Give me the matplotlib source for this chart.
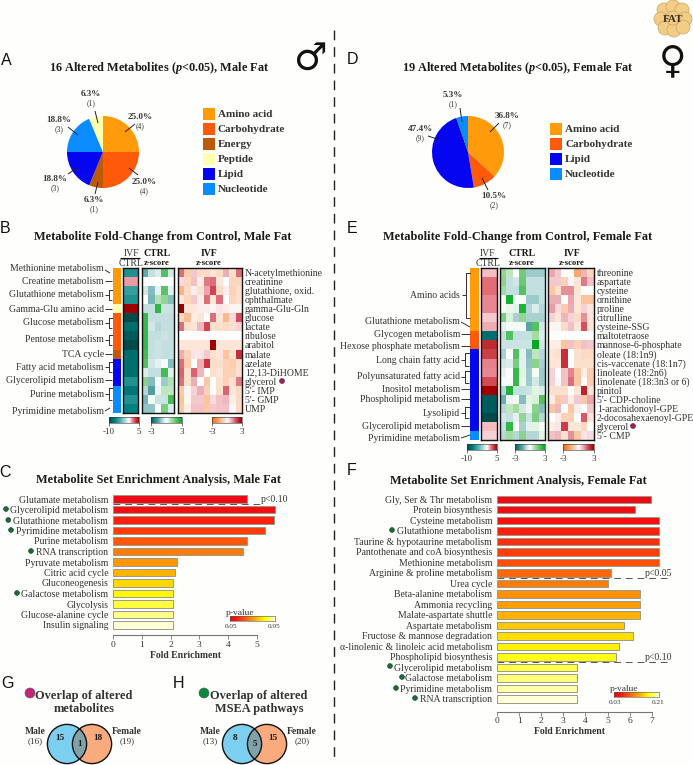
import matplotlib
matplotlib.use("Agg")
import matplotlib.pyplot as plt
import numpy as np
from matplotlib.colors import LinearSegmentedColormap, ListedColormap, Normalize
from matplotlib.patches import Circle, Rectangle

W, H = 693, 765

plt.rcParams['font.family'] = ['Liberation Serif', 'DejaVu Serif']
plt.rcParams['mathtext.fontset'] = 'custom'
plt.rcParams['mathtext.it'] = 'Liberation Serif:italic:bold'
plt.rcParams['mathtext.rm'] = 'Liberation Serif:bold'

# pies
cat_colors = {'Amino acid': '#ff9a0a', 'Carbohydrate': '#ff5a0a', 'Energy': '#bd5a0a',
              'Peptide': '#ffffb0', 'Lipid': '#0505f0', 'Nucleotide': '#0a8cff'}
male_cats = ['Amino acid', 'Carbohydrate', 'Energy', 'Lipid', 'Nucleotide', 'Peptide']
male_counts = [4, 4, 1, 3, 3, 1]
female_cats = ['Amino acid', 'Carbohydrate', 'Lipid', 'Nucleotide']
female_counts = [7, 2, 9, 1]
male_legend = ['Amino acid', 'Carbohydrate', 'Energy', 'Peptide', 'Lipid', 'Nucleotide']

# heatmaps, male
male_rows = ['N-acetylmethionine', 'creatinine', 'glutathione, oxid.', 'ophthalmate', 'gamma-Glu-Gln',
             'glucose', 'lactate', 'ribulose', 'arabitol', 'malate', 'azelate', '12,13-DiHOME',
             'glycerol', "5'- IMP", "5'- GMP", 'UMP']
male_groups = ['Amino acid'] * 4 + ['Peptide'] + ['Carbohydrate'] * 4 + ['Energy'] + ['Lipid'] * 3 + ['Nucleotide'] * 3
male_fc = [-6, 1.5, -5.2, -6, 5, -10, -8, -9, -10, -8, -8, -8, -6, -7.5, -6, -7]
male_ctrl = [[-1.5, -0.7, -0.4, 2, -0.5],
             [0, 0, 0, 0, 0],
             [-0.5, -1.2, -0.3, 1.9, -0.3],
             [0, -1.3, 0.8, 1.2, -1.2],
             [-0.7, -0.7, 2.4, -0.6, -0.6],
             [2.3, -0.7, -0.7, -0.7, -0.7],
             [2.3, -0.5, -0.8, -0.7, -0.7],
             [2.3, -0.7, -0.7, -0.6, -0.7],
             [2.3, -0.7, -0.6, -0.7, -0.7],
             [2.2, -0.7, -0.6, -0.7, -0.7],
             [2, -0.5, -0.3, 0.1, -1.2],
             [-0.4, -0.7, -0.7, 2.2, -0.3],
             [1.3, -1.2, -0.1, -1, 0.8],
             [-0.8, -1.7, -0.2, 0.7, 0.7],
             [-1.3, 0.1, -0.6, -0.6, 2.2],
             [-1.1, -1.1, 0, 1.5, -0.4]]
male_ivf = [[1.5, -0.8, 0.6, -0.5, -0.5, -0.3, -0.5, 0.9, -0.4, 1.5],
            [0.4, -0.6, 0.7, -0.2, 1.4, 1.5, -0.3, 0.0, -0.6, -0.6],
            [-1.3, -0.5, 0.2, -0.4, 1.0, 1.9, -0.5, 0.2, -0.7, -0.4],
            [-0.3, -0.6, 0.6, 0.2, 1.5, -0.3, 1.5, 0, -0.6, -0.4],
            [3, -0.3, -0.3, 0.2, 0.2, -0.1, 0.3, -0.2, 0.1, 0.1],
            [-0.6, -1.1, -0.2, -0.3, 0, 1.5, -0.3, -1.2, 0.4, 1.8],
            [1.5, -0.4, -0.3, 0.8, 1.9, -0.4, -0.4, -0.5, -0.4, 0.5],
            [0, 0, 0, 0, 0, 0, 0, 0, 0, 0],
            [-0.3, -0.3, -0.3, -0.3, -0.3, 3, -0.3, -0.3, -0.3, -0.3],
            [0.9, -0.7, 0.3, 0.3, 0.6, -0.4, -0.3, -1, -0.4, 2.2],
            [1.5, -0.8, 0, 0.9, 2.1, -0.4, -0.4, -0.7, -0.8, -0.4],
            [1.6, -0.4, 1.6, 0.8, 0, -0.4, -0.3, -0.7, -0.7, -0.4],
            [1.5, -0.4, 0.9, 0, -0.9, 0, -0.4, -0.7, -0.4, 1.4],
            [-0.9, 0.1, 0.5, 0.9, -0.7, 0, -0.4, 1.6, -0.3, -0.5],
            [-1, -0.1, 0.6, 0.6, -1, 0.4, 0.7, 0.8, -0.2, -0.5],
            [-0.9, -0.2, 0.7, 0.7, -0.9, 0.6, 0.7, 0.7, 0.1, -0.5]]

# heatmaps, female
female_rows = ['threonine', 'aspartate', 'cysteine', 'ornithine', 'proline', 'citrulline', 'cysteine-SSG',
               'maltotetraose', 'mannose-6-phosphate', 'oleate (18:1n9)', 'cis-vaccenate (18:1n7)',
               'linoleate (18:2n6)', 'linolenate (18:3n3 or 6)', 'pinitol', "5'- CDP-choline",
               '1-arachidonoyl-GPE', '2-docosahexaenoyl-GPE', 'glycerol', "5'- CMP"]
female_groups = ['Amino acid'] * 7 + ['Carbohydrate'] * 2 + ['Lipid'] * 9 + ['Nucleotide']
female_fc = [1, 2.2, 2.2, 1.8, 1.8, 0.8, 1.3, -8, 3.8, 3.3, 1.9, 1.8, 3, 5, -9, -9, -10, 1, 0.7]
female_ctrl = [[1.2, 0.7, 0, 1.6, -1, -1, -1],
               [1.3, -0.7, -0.5, 1.7, -0.7, -0.7, -0.7],
               [1, -0.7, -0.7, 2, -0.7, -0.7, -0.7],
               [0.1, 2.7, 0.1, 0.1, -1, -1, -0.7],
               [0.1, 0.2, -0.3, 2.6, -0.8, -0.4, -0.8],
               [1.5, 0.4, -0.9, 1.2, -0.9, -0.9, -0.9],
               [-0.3, 0.1, 0.1, 0.1, -1.6, 2, -0.5],
               [-0.7, 2, -0.7, -0.7, -0.7, 1, -0.4],
               [-0.6, -0.6, -0.6, -0.6, -0.6, 3, -0.5],
               [-0.9, 0, 2, -0.3, -1.2, 0.7, -0.8],
               [-0.5, -0.4, 1.5, -0.3, -1.1, 1.3, -0.9],
               [-0.3, 0, 2.3, 0.3, -1, 0.1, -1],
               [-0.1, 0.1, 2.3, 0.2, -1, -0.5, -1],
               [-0.8, 2.6, -0.7, -0.7, -0.6, 0.3, -0.4],
               [-1.4, -0.2, -0.1, -1.2, 0.3, 0.4, 2],
               [-0.8, 0.7, 1, -0.5, -0.2, 1.3, -1.2],
               [-0.5, -0.7, -0.3, 1.2, -0.6, 1.5, -0.8],
               [-0.7, 2.4, 0, -0.9, -0.3, 0.3, 0.1],
               [-0.8, 1, -0.8, 1.3, -0.8, -0.8, 0.3]]
female_ivf = [[1, 0.6, 0, 0, -1.6, 0.8, -0.6],
              [0.6, 0.6, -0.7, 0.1, -0.3, 1.4, 0.7],
              [-0.9, -0.4, 1.2, 1.2, -0.3, 0, 0],
              [0.9, 0.9, 0, 1, -0.3, -1, -1],
              [1.1, 0.4, -0.8, 0.9, -0.3, 0.5, -0.3],
              [0.5, -0.3, 0.8, 0.5, -0.5, 1.2, -0.3],
              [-0.1, 0.1, -0.5, 0.7, -0.3, 1.8, -0.3],
              [0, 0, 0, 0, 0, 0, 0],
              [-0.2, -0.2, -1, 0.7, -0.7, 0.7, 0.6],
              [-0.3, -0.4, 2.2, 0, -0.4, -0.5, -0.5],
              [-0.3, -0.3, 2.2, 0, -0.4, -0.4, -0.4],
              [0.5, 0, 0.7, 1.3, -0.9, -0.2, -0.8],
              [0.5, 0.1, 0.7, 1.5, -0.9, 0, -0.8],
              [-0.4, -0.4, -0.4, 0, -0.3, 2.4, -0.3],
              [-0.2, -0.9, 0.6, -0.2, 0.6, -0.9, 1.0],
              [-0.9, 0.8, 0, -0.9, 0.2, 0, 0.6],
              [0, 0.2, -0.7, -0.7, 0, 1.7, -0.3],
              [-0.2, 0.3, 2, -0.3, -0.3, -0.6, 0],
              [0.7, 0.8, -0.4, 1.2, -0.9, 0.3, 0.4]]

# enrichment
male_paths = ['Glutamate metabolism', 'Glycerolipid metabolism', 'Glutathione metabolism', 'Pyrimidine metabolism',
              'Purine metabolism', 'RNA transcription', 'Pyruvate metabolism', 'Citric acid cycle', 'Gluconeogenesis',
              'Galactose metabolism', 'Glycolysis', 'Glucose-alanine cycle', 'Insulin signaling']
male_enrich = [4.65, 5.63, 5.6, 5.27, 4.66, 4.5, 2.23, 2.16, 2.1, 2.1, 2.08, 2.08, 2.08]
female_paths = ['Gly, Ser & Thr metabolism', 'Protein biosynthesis', 'Cysteine metabolism', 'Glutathione metabolism',
                'Taurine & hypotaurine metabolism', 'Pantothenate and coA biosynthesis', 'Methionine metabolism',
                'Arginine & proline metabolism', 'Urea cycle', 'Beta-alanine metabolism', 'Ammonia recycling',
                'Malate-aspartate shuttle', 'Aspartate metabolism', 'Fructose & mannose degradation',
                'α-linolenic & linoleic acid metabolism', 'Phospholipid biosynthesis', 'Glycerolipid metabolism',
                'Galactose metabolism', 'Pyrimidine metabolism', 'RNA transcription']
female_enrich = [6.97, 6.24, 7.33, 7.33, 7.33, 7.33, 7.33, 5.16, 5.0, 6.47, 6.47, 6.47, 5.73, 6.17, 5.5, 5.37,
                 3.6, 3.6, 3.6, 3.6]

# colours
fc_cmap = LinearSegmentedColormap.from_list('fc', [(0, '#004a4a'), (0.2, '#008080'), (0.4, '#5fb3b3'),
                                                   (0.667, '#ffffff'), (0.83, '#e0606a'), (1, '#a00000')])
ctrl_cmap = LinearSegmentedColormap.from_list('ctrl', [(0, '#005f5f'), (0.25, '#5faaaa'), (0.383, '#c3dfdf'),
                                                       (0.5, '#ffffff'), (0.667, '#a3dba3'), (0.867, '#45bb55'),
                                                       (1, '#00aa22')])
ivf_cmap = LinearSegmentedColormap.from_list('ivf', [(0, '#f26a10'), (0.333, '#fbc39e'), (0.45, '#fde6d8'),
                                                     (0.5, '#ffffff'), (0.667, '#eba6ae'), (0.833, '#cf3b4a'),
                                                     (1, '#a00000')])
p_cmap = LinearSegmentedColormap.from_list('p', [(0, '#ee0a14'), (0.1, '#f70f10'), (0.3, '#ff4a0a'), (0.42, '#ff7d0a'),
                                                 (0.55, '#ffa505'), (0.66, '#ffd400'), (0.77, '#ffff00'),
                                                 (0.88, '#ffff66'), (1, '#ffffd8')])

text_c = '#333333'
bold_c = '#1a1a1a'

fig = plt.figure(figsize=(W / 100, H / 100), dpi=100, facecolor='#fefefc')


def px_axes(x0, y0, x1, y1):
    return fig.add_axes([x0 / W, 1 - y1 / H, (x1 - x0) / W, (y1 - y0) / H])


# everything that is only annotation goes in this one, in pixel coordinates
ov = fig.add_axes([0, 0, 1, 1], zorder=10)
ov.set_xlim(0, W)
ov.set_ylim(H, 0)
ov.axis('off')
ov.patch.set_alpha(0)


def txt(x, y, s, size=7.0, ha='center', weight='normal', color=text_c, **kw):
    ov.text(x, y, s, fontsize=size, ha=ha, va='center', fontweight=weight, color=color, **kw)


def seg(xs, ys, color='#333333', lw=0.7, **kw):
    ov.plot(xs, ys, color=color, lw=lw, solid_capstyle='butt', **kw)


def draw_pie(cx, cy, r, cats, counts):
    ax = px_axes(cx - r, cy - r, cx + r, cy + r)
    ax.pie(counts, colors=[cat_colors[c] for c in cats], startangle=90, counterclock=False, radius=1)
    ax.set_xlim(-1, 1)
    ax.set_ylim(-1, 1)


def heat(x0, y0, x1, y1, data, cmap, vmin, vmax):
    ax = px_axes(x0, y0, x1, y1)
    ax.imshow(np.array(data, float), cmap=cmap, vmin=vmin, vmax=vmax, aspect='auto', interpolation='nearest')
    ax.set_xticks([])
    ax.set_yticks([])
    for s in ax.spines.values():
        s.set_linewidth(1.0)
        s.set_color('#111111')
    return ax


def strip(x0, y0, x1, y1, groups):
    names = list(cat_colors)
    ax = px_axes(x0, y0, x1, y1)
    ax.imshow(np.array([[names.index(g)] for g in groups]), cmap=ListedColormap([cat_colors[n] for n in names]),
              vmin=0, vmax=len(names) - 1, aspect='auto', interpolation='nearest')
    ax.axis('off')


def gradbar(x0, y0, x1, y1, cmap, vmin, vmax):
    ax = px_axes(x0, y0, x1, y1)
    ax.imshow(np.linspace(vmin, vmax, 200)[None, :], cmap=cmap, aspect='auto', extent=[vmin, vmax, 0, 1])
    ax.set_yticks([])
    ax.set_xticks([vmin, vmax])
    ax.set_xticklabels([f'{vmin}', f'{vmax}'], fontsize=6.5, color=text_c)
    ax.tick_params(axis='x', length=2, width=0.5, pad=1.5, color='#444444')
    for s in ax.spines.values():
        s.set_linewidth(0.4)
        s.set_color('#333333')


def enrich(x0, xscale, xmax, ytop, step, names, vals, ticks, bottom):
    nrows = len(names)
    ax = px_axes(x0, ytop - step, x0 + xscale * xmax, bottom)
    ypos = np.arange(nrows)
    cols = p_cmap(np.linspace(0, 1, nrows))
    ax.barh(ypos, vals, height=0.7, color=cols, edgecolor='#9a9a8a', linewidth=0.7)
    ax.set_xlim(0, xmax)
    ax.set_ylim((bottom - ytop) / step, -1)
    ax.set_yticks(ypos)
    ax.set_yticklabels(names, fontsize=7.0, color=text_c)
    ax.tick_params(axis='y', length=0, pad=3.5)
    ax.set_xticks(ticks)
    ax.set_xticklabels([str(t) for t in ticks], fontsize=6.8, color=text_c)
    ax.tick_params(axis='x', length=3, width=0.6, pad=1, color='#777777')
    for s in ['top', 'right', 'left']:
        ax.spines[s].set_visible(False)
    ax.spines['bottom'].set_bounds(ticks[0], ticks[-1])
    ax.spines['bottom'].set_color('#777777')
    ax.patch.set_alpha(0)
    return ax


# ---- panel letters, sex marks, divider
for s, x, y in [('A', 6, 60), ('B', 5, 228), ('C', 5, 472), ('D', 352, 59), ('E', 352, 228), ('F', 352, 470),
                ('G', 7, 683), ('H', 179, 683)]:
    txt(x, y, s, size=11.5, family=['Liberation Sans'], color='#111111')
ov.plot([334, 334], [30, 757], color='#222222', lw=1, dashes=(7, 5))
txt(310, 60, '♂', size=27, family=['DejaVu Sans'], color='#111111')
txt(673, 62, '♀', size=27, family=['DejaVu Sans'], color='#111111')

# fat icon
for dx, dy in [(-9, -8), (0, -11), (9, -8), (-12, 1), (12, 1), (-8, 10), (1, 12), (10, 9), (0, 0)]:
    ov.add_patch(Circle((673 + dx, 18 + dy), 7, fc='#f3cc86', ec='#c9a566', lw=0.5))
txt(673, 19, 'FAT', size=8, weight='bold', color='#3a3020')

# ---- A, D
txt(159, 68, '16 Altered Metabolites ($\\mathit{p}$<0.05), Male Fat', size=8.8, weight='bold', color=bold_c)
txt(518, 68, '19 Altered Metabolites ($\\mathit{p}$<0.05), Female Fat', size=8.8, weight='bold', color=bold_c)
draw_pie(103, 152, 36, male_cats, male_counts)
draw_pie(468, 152, 36, female_cats, female_counts)


def pie_label(x, y, pct, n, lx, ly):
    txt(x, y, pct, size=6.6, weight='bold', color='#3a3a3a')
    txt(x, y + 9.5, f'({n})', size=5.5)
    seg(lx, ly, color='#222222', lw=0.7)


pie_label(91, 94, '6.3%', 1, [95, 98], [111, 123])
pie_label(140, 117, '25.0%', 4, [135, 125], [124, 132])
pie_label(144, 182, '25.0%', 4, [138, 129], [175, 168])
pie_label(94, 200, '6.3%', 1, [95, 98], [194, 182])
pie_label(55, 179, '18.8%', 3, [68, 77], [174, 168])
pie_label(59, 120, '18.8%', 3, [68, 78], [127, 135])
pie_label(453, 95, '5.3%', 1, [460, 462], [108, 122])
pie_label(507, 116, '36.8%', 7, [499, 490], [123, 132])
pie_label(420, 129, '47.4%', 9, [428, 440], [136, 140])
pie_label(494, 196, '10.5%', 2, [488, 482], [190, 178])

for i, name in enumerate(male_legend):
    y = 114 + 15 * i
    ov.add_patch(Rectangle((203, y - 6), 11.5, 12, fc=cat_colors[name], ec='none'))
    txt(218, y, name, size=8.0, ha='left', weight='bold', color='#333333')
for i, name in enumerate(female_cats):
    y = 129 + 15 * i
    ov.add_patch(Rectangle((550, y - 6), 11.5, 12, fc=cat_colors[name], ec='none'))
    txt(565, y, name, size=8.0, ha='left', weight='bold', color='#333333')

# ---- B
txt(163, 237, 'Metabolite Fold-Change from Control, Male Fat', size=8.95, weight='bold', color=bold_c)
strip(113, 268, 120.5, 413, male_groups)
heat(122.5, 268, 138, 413, [[v] for v in male_fc], fc_cmap, -10, 5)
heat(142, 268, 174, 413, male_ctrl, ctrl_cmap, -3, 3)
heat(178, 268, 242, 413, male_ivf, ivf_cmap, -3, 3)
gradbar(109, 417, 139, 423, fc_cmap, -10, 5)
gradbar(151, 417, 182, 423, ctrl_cmap, -3, 3)
gradbar(212, 417, 242, 423, ivf_cmap, -3, 3)

txt(131, 253, 'IVF', size=7.0)
seg([120, 140], [258, 258], color='#111111', lw=0.8)
txt(131, 263, 'CTRL', size=7.0)
txt(157, 253, 'CTRL', size=7.0, weight='bold', color=bold_c)
txt(157, 263, 'z-score', size=6.2, weight='bold', color=bold_c)
txt(209, 253, 'IVF', size=7.0, weight='bold', color=bold_c)
txt(209, 263, 'z-score', size=6.2, weight='bold', color=bold_c)

for i, name in enumerate(male_rows):
    txt(245, 273.5 + 9.06 * i, name, size=7.0, ha='left')
ov.add_patch(Circle((282, 381), 2.5, fc='#b0185f', ec='#333333', lw=0.4))

male_path_labels = [('Methionine metabolism', 268), ('Creatine metabolism', 281), ('Glutathione metabolism', 294),
                    ('Gamma-Glu amino acid', 309), ('Glucose metabolism', 322), ('Pentose metabolism', 339),
                    ('TCA cycle', 354), ('Fatty acid metabolism', 367), ('Glycerolipid metabolism', 380),
                    ('Purine metabolism', 394), ('Pyrimidine metabolism', 411)]
for name, y in male_path_labels:
    txt(104, y, name, size=7.0, ha='right')
for a, b in [(290, 300), (318, 328), (335, 345), (362, 372), (388, 400)]:
    m = (a + b) / 2
    seg([105, 109, 109, 112, 109, 109, 112], [m, m, a, a, a, b, b])
for y in [281, 309, 354, 380]:
    seg([105, 112], [y, y])
seg([105, 110], [270, 273])
seg([105, 110], [411, 408])

# ---- E
txt(518, 237, 'Metabolite Fold-Change from Control, Female Fat', size=8.95, weight='bold', color=bold_c)
strip(470, 268, 478.5, 440, female_groups)
heat(480.5, 268, 497, 440, [[v] for v in female_fc], fc_cmap, -10, 5)
heat(500, 268, 545, 440, female_ctrl, ctrl_cmap, -3, 3)
heat(548, 268, 594, 440, female_ivf, ivf_cmap, -3, 3)
gradbar(467, 444, 497, 450, fc_cmap, -10, 5)
gradbar(515, 444, 545, 450, ctrl_cmap, -3, 3)
gradbar(563, 444, 594, 450, ivf_cmap, -3, 3)

txt(488, 253, 'IVF', size=7.0)
seg([479, 498], [258, 258], color='#111111', lw=0.8)
txt(488, 263, 'CTRL', size=7.0)
txt(522, 253, 'CTRL', size=7.0, weight='bold', color=bold_c)
txt(522, 263, 'z-score', size=6.2, weight='bold', color=bold_c)
txt(572, 253, 'IVF', size=7.0, weight='bold', color=bold_c)
txt(572, 263, 'z-score', size=6.2, weight='bold', color=bold_c)

for i, name in enumerate(female_rows):
    txt(597, 273.5 + 9.06 * i, name, size=7.0, ha='left')
ov.add_patch(Circle((633, 426), 2.5, fc='#b0185f', ec='#333333', lw=0.4))

female_path_labels = [('Amino acids', 295), ('Glutathione metabolism', 321), ('Glycogen metabolism', 334),
                      ('Hexose phosphate metabolism', 346), ('Long chain fatty acid', 360),
                      ('Polyunsaturated fatty acid', 376), ('Inositol metabolism', 389),
                      ('Phospholipid metabolism', 399), ('Lysolipid', 413), ('Glycerolipid metabolism', 426),
                      ('Pyrimidine metabolism', 438)]
for name, y in female_path_labels:
    txt(460, y, name, size=7.0, ha='right')
seg([462, 466, 466, 470, 466, 466, 470], [295, 295, 273, 273, 273, 318, 318])
for a, b in [(353, 366), (371, 383), (407, 418)]:
    m = (a + b) / 2
    seg([461, 465, 465, 469, 465, 465, 469], [m, m, a, a, a, b, b])
for y in [334, 346, 389, 399, 426]:
    seg([461, 470], [y, y])
seg([461, 470], [322, 327])
seg([461, 470], [438, 435])

# ---- C, F
txt(159, 480, 'Metabolite Set Enrichment Analysis, Male Fat', size=8.95, weight='bold', color=bold_c)
txt(518, 481, 'Metabolite Set Enrichment Analysis, Female Fat', size=8.95, weight='bold', color=bold_c)
enrich(113, 28.8, 6, 499, 10.5, male_paths, male_enrich, [0, 1, 2, 3, 4, 5], 635)
enrich(497, 22.1, 7.5, 499.3, 10.51, female_paths, female_enrich, [0, 1, 2, 3, 4, 5, 6, 7], 711.7)
txt(185, 656, 'Fold Enrichment', size=6.9, weight='bold', color='#333333')
txt(569, 732, 'Fold Enrichment', size=6.9, weight='bold', color='#333333')

ov.plot([113, 260], [504.3, 504.3], color='#555555', lw=0.7, dashes=(7, 5))
txt(261, 499, 'p<0.10', size=7.0, ha='left')
ov.plot([497, 667], [578, 578], color='#555555', lw=0.7, dashes=(7, 5))
txt(645, 573, 'p<0.05', size=7.0, ha='left')
ov.plot([497, 667], [662, 662], color='#555555', lw=0.7, dashes=(7, 5))
txt(645, 657, 'p<0.10', size=7.0, ha='left')


def p_legend(x0, x1, y0, y1, lo, hi):
    ax = px_axes(x0, y0, x1, y1)
    ax.imshow(np.linspace(0, 1, 200)[None, :], cmap=p_cmap, norm=Normalize(0, 1), aspect='auto')
    ax.set_xticks([])
    ax.set_yticks([])
    for s in ax.spines.values():
        s.set_linewidth(0.4)
        s.set_color('#555555')
    txt(x0 + 10, y0 - 3, 'p-value', size=6.8)
    txt(x0 + 1, y1 + 5, lo, size=5.2)
    txt(x1 - 1, y1 + 5, hi, size=5.2)


p_legend(230, 275, 616, 621, '0.05', '0.95')
p_legend(614, 659, 692, 697, '0.03', '0.21')

green_dots = [(6, 509), (8.3, 520), (11, 530), (31, 551), (17, 593),
              (392, 530), (390, 666), (402, 677), (396, 688), (415, 698)]
for x, y in green_dots:
    ov.add_patch(Circle((x, y), 2.4, fc='#1a6b3c', ec='#0d3d22', lw=0.4))

# ---- G, H
ov.add_patch(Circle((30, 693), 5, fc='#c2257a', ec='#555555', lw=0.4))
ov.add_patch(Circle((204, 693), 5, fc='#0a8a3c', ec='#555555', lw=0.4))
txt(84, 696, 'Overlap of altered', size=8.9, weight='bold', color='#333333')
txt(84, 709, 'metabolites', size=8.9, weight='bold', color='#333333')
txt(259, 696, 'Overlap of altered', size=8.9, weight='bold', color='#333333')
txt(259, 709, 'MSEA pathways', size=8.9, weight='bold', color='#333333')


def venn(cx1, cx2, a, both, b, xl, xr, nl, nr):
    y, r = 744, 19.6
    left = Circle((cx1, y), r, fc='#7ccfee', ec='none')
    right = Circle((cx2, y), r, fc='#f9ab7d', ec='none')
    ov.add_patch(left)
    ov.add_patch(right)
    mid = Circle((cx1, y), r, fc='#7fa3a8', ec='none')
    ov.add_patch(mid)
    mid.set_clip_path(Circle((cx2, y), r, transform=ov.transData))
    for c in (cx1, cx2):
        ov.add_patch(Circle((c, y), r, fc='none', ec='#111111', lw=1.0))
    txt(cx1 - 7, 738, str(a), size=6.6, weight='bold', color=bold_c)
    txt((cx1 + cx2) / 2, y, str(both), size=6.6, weight='bold', color=bold_c)
    txt(cx2 + 6, 738, str(b), size=6.6, weight='bold', color=bold_c)
    txt(xl, 732, 'Male', size=6.9, weight='bold', color='#333333')
    txt(xl, 741, f'({nl})', size=6.6)
    txt(xr, 732, 'Female', size=6.9, weight='bold', color='#333333')
    txt(xr, 741, f'({nr})', size=6.6)


venn(67, 92, 15, 1, 18, 35, 127, 16, 19)
venn(242, 267, 8, 5, 15, 210, 302, 13, 20)

fig.savefig('out.png', dpi=100, facecolor=fig.get_facecolor())
